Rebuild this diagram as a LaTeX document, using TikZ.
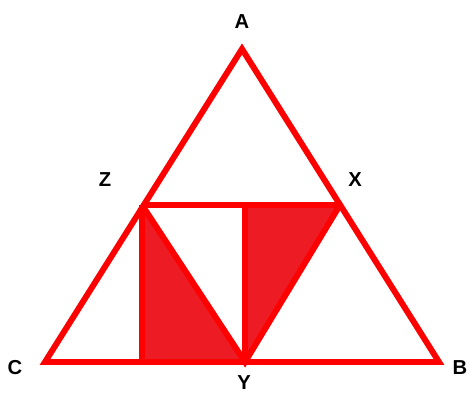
\documentclass[tikz,border=0pt]{standalone}
\usepackage{fontspec}
\setmainfont{Liberation Sans}
\definecolor{lred}{HTML}{FF0000}
\definecolor{sred}{HTML}{ED1C24}
\begin{document}
\begin{tikzpicture}[x=0.02cm, y=-0.02cm,
  ln/.style={draw=lred, line width=3.4pt, line join=miter},
  sh/.style={fill=sred},
  lb/.style={font=\bfseries\fontsize{11.5}{13}\selectfont, text=black, inner sep=0pt}]
\useasboundingbox (0,0) rectangle (468,393);
\coordinate (A) at (242,49);
\coordinate (C) at (45,362);
\coordinate (B) at (439,362);
\coordinate (Z) at (142,205);
\coordinate (X) at (340,205);
\coordinate (Y) at (245,362);
\coordinate (Zf) at (142,362);
\coordinate (Yt) at (245,205);
% shaded pieces under the lines
\fill[sh] (Z) -- (Zf) -- (Y) -- cycle;
\fill[sh] (Yt) -- (X) -- (Y) -- cycle;
\draw[ln] (A) -- (B) -- (C) -- cycle;
\draw[ln] (Z) -- (X);
\draw[ln] (Z) -- (Y) -- (X);
\draw[ln] (Z) -- (Zf);
\draw[ln] (Yt) -- (Y);
\node[lb] (lA) at (242,22) {A};
\node[lb] (lZ) at (105,180) {Z};
\node[lb] (lX) at (355,180) {X};
\node[lb] (lC) at (15,368) {C};
\node[lb] (lY) at (244,383) {Y};
\node[lb] (lB) at (460,368) {B};
\end{tikzpicture}
\end{document}
